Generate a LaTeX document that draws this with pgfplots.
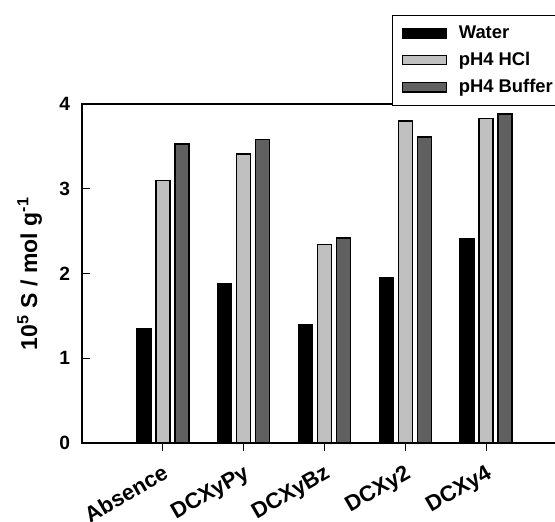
\documentclass[border=0pt]{standalone}
\usepackage{fontspec}
\setmainfont{Liberation Sans}
\usepackage{pgfplots}
\pgfplotsset{compat=1.18}

\definecolor{hclgray}{HTML}{C0C0C0}
\definecolor{bufgray}{HTML}{606060}

\pgfplotstableread{
idx water hcl buffer
0   1.35  3.10 3.53
1   1.88  3.41 3.58
2   1.40  2.34 2.42
3   1.95  3.80 3.61
4   2.41  3.83 3.88
}\condtable

\begin{document}
\begin{tikzpicture}
\begin{scope}
\clip (-41pt,-39.5pt) rectangle (236.5pt,221.5pt);
\begin{axis}[
  scale only axis,
  width=242.5pt, height=169.5pt,
  xmin=-1, xmax=5,
  ymin=0, ymax=4,
  axis line style={line width=0.7pt},
  xtick={0,1,2,3,4},
  xticklabels={Absence,DCXyPy,DCXyBz,DCXy2,DCXy4},
  ytick={0,1,2,3,4},
  xtick pos=bottom, ytick pos=left,
  x tick style={line width=0.5pt, black},
  y tick style={line width=0.5pt, black},
  xtick align=outside, ytick align=inside,
  major tick length=4pt,
  tick label style={font=\bfseries\fontsize{9.6}{11}\selectfont},
  xticklabel style={font=\bfseries\fontsize{11}{13}\selectfont,
    rotate=30, anchor=north east, inner sep=0pt, xshift=-3.5pt, yshift=-5pt},
  yticklabel style={xshift=-2.5pt},
  /pgf/number format/assume math mode=true,
  ylabel={10\textsuperscript{5} S / mol g\textsuperscript{-1}},
  every axis y label/.style={at={(axis description cs:-0.108,0.5)},
    rotate=90, anchor=center, font=\bfseries\fontsize{11.5}{13}\selectfont},
  ybar, bar width=7pt,
  legend style={at={(axis description cs:0.639,1.2625)}, anchor=north west,
    draw=black, line width=0.6pt, font=\bfseries\fontsize{9.2}{11}\selectfont,
    row sep=1.4pt, inner xsep=4.5pt, inner ysep=3pt,
    nodes={inner xsep=2pt}},
  legend cell align=left,
  legend image code/.code={
    \draw[#1, line width=0.6pt] (0pt,-2.3pt) rectangle (22pt,2.3pt);
    \path (26pt,0pt);},
]
\addplot[fill=black, draw=black, line width=0.7pt, bar shift=-9.5pt]
  table[x=idx, y=water] {\condtable};
\addlegendentry{Water}
\addplot[fill=hclgray, draw=black, line width=0.7pt, bar shift=0pt]
  table[x=idx, y=hcl] {\condtable};
\addlegendentry{pH4 HCl}
\addplot[fill=bufgray, draw=black, line width=0.7pt, bar shift=9.5pt]
  table[x=idx, y=buffer] {\condtable};
\addlegendentry{pH4 Buffer}
\end{axis}
\end{scope}
\pgfresetboundingbox
\useasboundingbox (-41pt,-39.5pt) rectangle (236.5pt,221.5pt);
\end{tikzpicture}
\end{document}
